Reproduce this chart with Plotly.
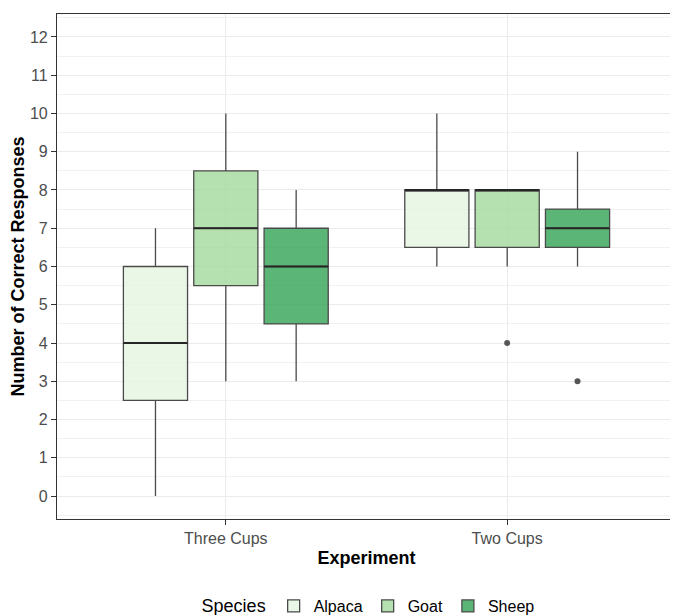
import plotly.graph_objects as go

experiments = ["Three Cups", "Two Cups"]
species = ["Alpaca", "Goat", "Sheep"]
colors = ["rgba(229,245,224,0.8)", "rgba(161,217,155,0.8)", "rgba(49,163,84,0.8)"]

# per species: values for [Three Cups, Two Cups]
lower_whisker = {"Alpaca": [0, 6], "Goat": [3, 6], "Sheep": [3, 6]}
q1_vals = {"Alpaca": [2.5, 6.5], "Goat": [5.5, 6.5], "Sheep": [4.5, 6.5]}
median_vals = {"Alpaca": [4, 8], "Goat": [7, 8], "Sheep": [6, 7]}
q3_vals = {"Alpaca": [6, 8], "Goat": [8.5, 8], "Sheep": [7, 7.5]}
upper_whisker = {"Alpaca": [7, 10], "Goat": [10, 8], "Sheep": [8, 9]}
outliers = {"Alpaca": [[], []], "Goat": [[], [4]], "Sheep": [[], [3]]}

dodge = 0.25
box_w = 0.228
fig = go.Figure()

for si, sp in enumerate(species):
    offset = (si - 1) * dodge
    pos = [gi + 1 + offset for gi in range(len(experiments))]
    fig.add_trace(go.Box(
        x=pos, q1=q1_vals[sp], median=median_vals[sp], q3=q3_vals[sp],
        lowerfence=lower_whisker[sp], upperfence=upper_whisker[sp],
        width=box_w, whiskerwidth=0, name=sp, fillcolor=colors[si],
        line=dict(color="#4a4a4a", width=1.3), boxpoints=False,
        legendgroup=sp,
    ))
    # thicker median lines
    mx, my = [], []
    for p, m in zip(pos, median_vals[sp]):
        mx += [p - box_w / 2, p + box_w / 2, None]
        my += [m, m, None]
    fig.add_trace(go.Scatter(x=mx, y=my, mode="lines", line=dict(color="#262626", width=2.2),
                             showlegend=False, hoverinfo="skip", legendgroup=sp))
    ox, oy = [], []
    for p, outs in zip(pos, outliers[sp]):
        for o in outs:
            ox.append(p)
            oy.append(o)
    if ox:
        fig.add_trace(go.Scatter(x=ox, y=oy, mode="markers", marker=dict(color="#555555", size=6),
                                 showlegend=False, hoverinfo="skip", legendgroup=sp))

FONT = "Liberation Sans, Arial, sans-serif"
axis_font = dict(family=FONT, size=16, color="#4d4d4d")
title_font = dict(family=FONT, size=18, color="#000000")

fig.update_layout(
    width=678, height=615,
    margin=dict(l=49, r=10, t=6, b=104),
    paper_bgcolor="white", plot_bgcolor="white",
    boxmode="overlay",
    showlegend=True,
    legend=dict(orientation="h", x=0.505, xanchor="center", xref="paper",
                y=0.0, yanchor="bottom", yref="container",
                title=dict(text="Species", font=dict(family=FONT, size=18, color="#000")),
                font=dict(family=FONT, size=16, color="#000"),
                itemwidth=30, tracegroupgap=0),
    xaxis=dict(
        range=[0.4, 2.6], tickvals=[1, 2], ticktext=experiments, automargin=False,
        showgrid=True, gridcolor="#ebebeb", gridwidth=1, zeroline=False,
        showline=True, linecolor="#333333", linewidth=1.2, mirror=True,
        ticks="outside", ticklen=5, tickcolor="#333333", tickfont=axis_font,
        title=dict(text="<b>Experiment</b>", font=title_font, standoff=5),
    ),
    yaxis=dict(
        range=[-0.6, 12.6], tickvals=list(range(0, 13)), automargin=False,
        showgrid=True, gridcolor="#ebebeb", gridwidth=1.3, zeroline=False,
        minor=dict(dtick=0.5, tick0=0.5, showgrid=True, gridcolor="#f1f1f1", gridwidth=0.8),
        showline=True, linecolor="#333333", linewidth=1.2, mirror=True,
        ticks="outside", ticklen=5, tickcolor="#333333", tickfont=axis_font,
        title=dict(text="<b>Number of Correct Responses</b>", font=title_font, standoff=0),
    ),
)

fig.write_html("out.html")
